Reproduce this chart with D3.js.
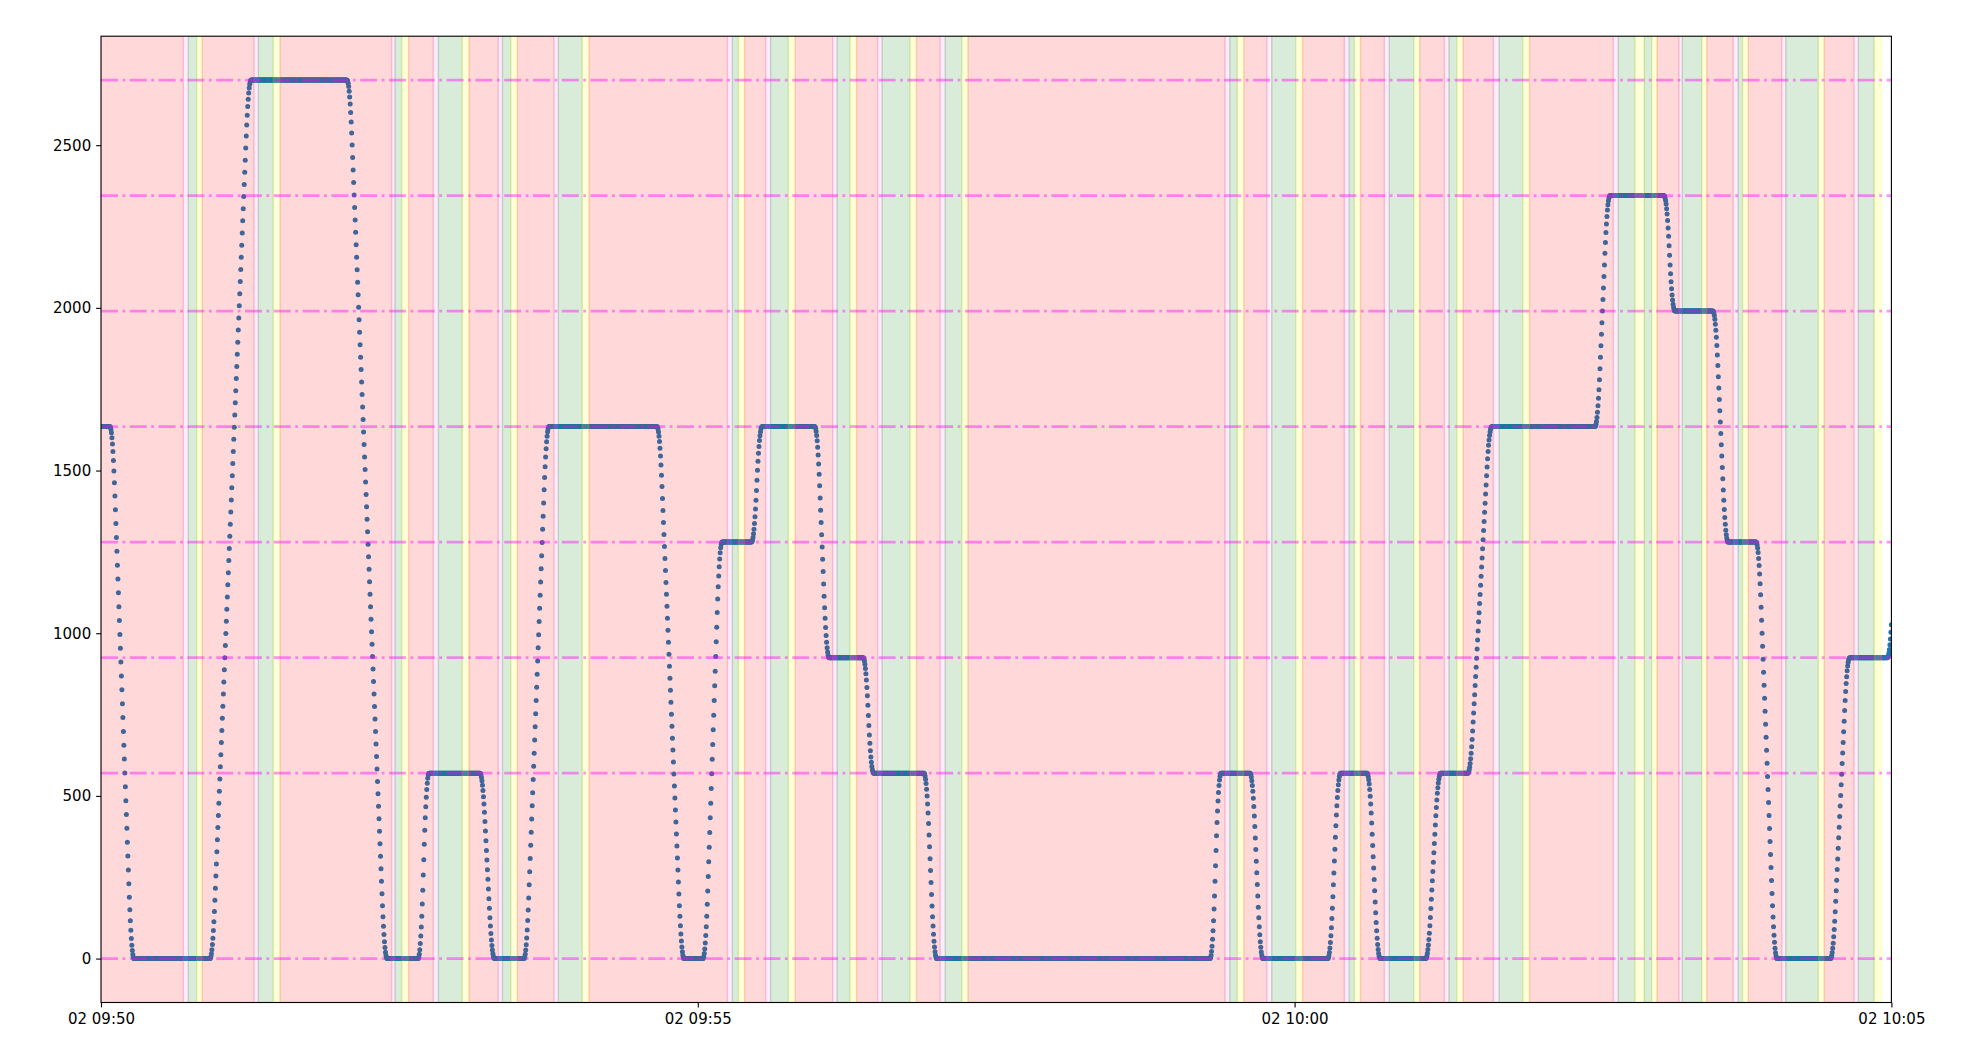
<!DOCTYPE html>
<html>
<head>
<meta charset="utf-8">
<script src="https://cdn.jsdelivr.net/npm/d3@7"></script>
<style>
  html, body { margin: 0; padding: 0; background: #fff; }
  svg { display: block; }
  .tick text { font-family: "DejaVu Sans", sans-serif; font-size: 15px; fill: #000; }
</style>
</head>
<body>
<svg id="chart" width="1968" height="1049"></svg>
<script>
// ---------------- data ----------------
// floor levels (dash-dot reference lines)
const floorLevels = [0, 570, 925, 1280, 1635, 1990, 2345, 2700];
// y tick labels
const yTicks = [0, 500, 1000, 1500, 2000, 2500];
// x tick labels (minutes after 09:50)
const xTickMinutes = [0, 5, 10, 15];

// elevator stops: level, arrival and departure (seconds after 09:50:00)
const stopLevels = [1635, 0, 2700, 0, 570, 0, 1635, 0, 1280, 1635, 925, 570, 0, 570, 0, 570, 0, 570, 1635, 2345, 1990, 1280, 0, 925, 1280];
const stopArrive = [0, 16.6, 75.4, 143.8, 164.9, 197.8, 225.2, 293.1, 312.2, 332.3, 366.0, 388.4, 420.1, 563.0, 584.1, 623.1, 643.0, 673.4, 699.1, 758.5, 791.2, 817.9, 842.5, 879.0, 903.3];
const stopDepart = [4.5, 54.8, 123.7, 159.4, 190.5, 212.6, 279.5, 302.6, 327.0, 358.8, 383.1, 413.7, 557.5, 577.6, 616.7, 636.4, 665.9, 687.1, 751.0, 785.7, 810.3, 832.0, 869.4, 898.0, 930];
const sampleRateHz = 4;

// door cycles (seconds after 09:50:00): opening -> open -> closing -> closed
const doorOpening = [41.4, 76.9, 146.1, 167.0, 199.7, 227.7, 314.9, 334.1, 367.8, 390.4, 421.8, 565.0, 586.0, 625.0, 645.1, 675.3, 699.9, 760.2, 775.8, 793.2, 820.5, 844.9, 881.2];
const doorOpen    = [43.9, 79.1, 147.8, 169.6, 201.8, 229.9, 317.4, 336.6, 370.0, 392.6, 424.4, 567.4, 588.5, 627.4, 647.6, 677.6, 702.8, 762.7, 775.8, 794.9, 823.0, 846.9, 883.4];
const doorClosing = [48.1, 86.6, 151.2, 181.6, 206.0, 241.9, 320.4, 345.5, 376.5, 406.7, 432.7, 571.2, 600.6, 630.0, 660.0, 681.5, 714.7, 771.1, 779.5, 804.7, 825.2, 863.3, 891.3];
const doorClosed  = [50.9, 90.0, 154.6, 185.0, 209.3, 245.3, 323.5, 348.9, 379.8, 409.9, 435.8, 574.5, 604.0, 633.1, 662.9, 684.7, 718.1, 775.8, 782.2, 807.2, 828.1, 866.2, 895.0];

// ---------------- layout ----------------
const m = { left: 101, top: 36.2, right: 1891.4, bottom: 1002.5 };
const t0 = new Date(2020, 0, 2, 9, 50, 0);
const sec = s => new Date(t0.getTime() + s * 1000);

const x = d3.scaleTime().domain([sec(0), sec(900)]).range([m.left, m.right]);
const y = d3.scaleLinear().domain([-135, 2835]).range([m.bottom, m.top]);

const svg = d3.select("#chart");

// ---------------- position samples ----------------
function positionAt(t) {
  for (let i = 0; i < stopLevels.length; i++) {
    if (t <= stopDepart[i]) {
      if (t >= stopArrive[i]) return stopLevels[i];
      const p0 = stopLevels[i - 1], p1 = stopLevels[i];
      const ts = stopDepart[i - 1], te = stopArrive[i];
      const T = te - ts, d = Math.abs(p1 - p0), sgn = Math.sign(p1 - p0);
      const ta = Math.min(2.5, T / 2);
      const v = d / (T - ta), a = v / ta;
      const tau = t - ts;
      let s;
      if (tau < ta) s = 0.5 * a * tau * tau;
      else if (tau < T - ta) s = 0.5 * a * ta * ta + v * (tau - ta);
      else s = d - 0.5 * a * (T - tau) * (T - tau);
      return p0 + sgn * s;
    }
  }
  return stopLevels[stopLevels.length - 1];
}
const samples = d3.range(0, 900 * sampleRateHz + 1).map(k => {
  const t = k / sampleRateHz;
  return { t, v: positionAt(t) };
});

// ---------------- door spans ----------------
const spans = [];
let prev = 0;
for (let i = 0; i < doorOpening.length; i++) {
  spans.push({ a: prev, b: doorOpening[i], c: "red" });
  spans.push({ a: doorOpening[i], b: doorOpen[i], c: "violet" });
  spans.push({ a: doorOpen[i], b: doorClosing[i], c: "green" });
  spans.push({ a: doorClosing[i], b: doorClosed[i], c: "yellow" });
  prev = doorClosed[i];
}
const spanList = spans.filter(s => s.b - s.a > 0.01);

// ---------------- draw ----------------
const plot = svg.append("g");
plot.append("defs").append("clipPath").attr("id", "clip")
  .append("rect").attr("x", m.left).attr("y", m.top)
  .attr("width", m.right - m.left).attr("height", m.bottom - m.top);

const inner = plot.append("g").attr("clip-path", "url(#clip)");

inner.append("g").selectAll("circle").data(samples).join("circle")
  .attr("cx", d => x(sec(d.t)))
  .attr("cy", d => y(d.v))
  .attr("r", 2.5)
  .attr("fill", "#1f77b4");

const colorMap = { red: "#ff0000", violet: "#ee82ee", green: "#008000", yellow: "#ffff00" };
inner.append("g").selectAll("rect").data(spanList).join("rect")
  .attr("x", d => x(sec(d.a)))
  .attr("width", d => x(sec(d.b)) - x(sec(d.a)))
  .attr("y", m.top).attr("height", m.bottom - m.top)
  .attr("fill", d => colorMap[d.c]).attr("fill-opacity", 0.15)
  .attr("stroke", d => colorMap[d.c]).attr("stroke-opacity", 0.15)
  .attr("stroke-width", 1.4);

inner.append("g").selectAll("line").data(floorLevels).join("line")
  .attr("x1", m.left).attr("x2", m.right)
  .attr("y1", d => y(d)).attr("y2", d => y(d))
  .attr("stroke", "#ff00ff").attr("stroke-opacity", 0.42)
  .attr("stroke-width", 2.8)
  .attr("stroke-dasharray", "17,4.5,2.8,4.5");

// axes
const xAxis = d3.axisBottom(x)
  .tickValues(xTickMinutes.map(mm => sec(mm * 60)))
  .tickFormat(d3.timeFormat("%d %H:%M"))
  .tickSize(4.9).tickPadding(4.9);
const yAxis = d3.axisLeft(y).tickValues(yTicks).tickFormat(d3.format("d"))
  .tickSize(4.9).tickPadding(4.9);

const gx = svg.append("g").attr("transform", `translate(0,${m.bottom})`).call(xAxis);
const gy = svg.append("g").attr("transform", `translate(${m.left},0)`).call(yAxis);
[gx, gy].forEach(g => {
  g.select(".domain").remove();
  g.selectAll(".tick line").attr("stroke", "#000").attr("stroke-width", 1.1);
});
gx.selectAll(".tick text").attr("dy", "0.75em");

// frame
svg.append("rect")
  .attr("x", m.left).attr("y", m.top)
  .attr("width", m.right - m.left).attr("height", m.bottom - m.top)
  .attr("fill", "none").attr("stroke", "#000").attr("stroke-width", 1.1);
</script>
</body>
</html>
